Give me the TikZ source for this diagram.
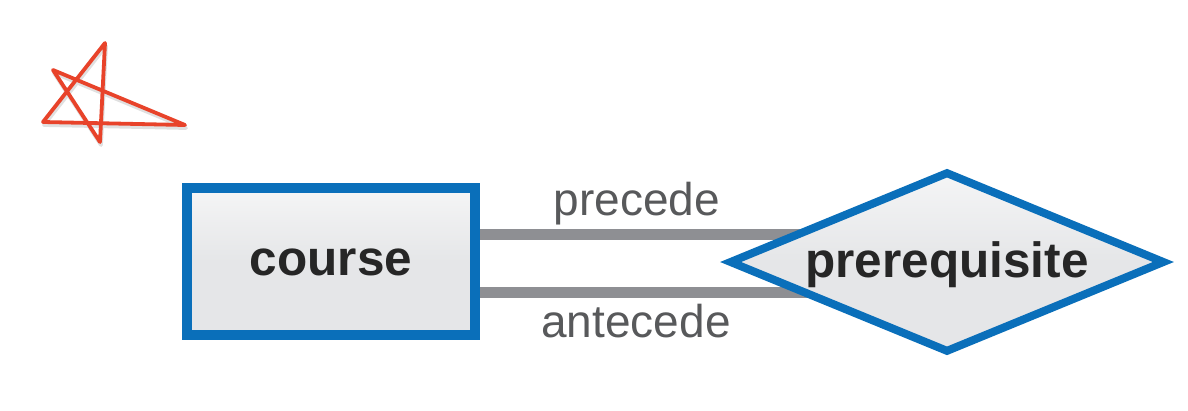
\documentclass[tikz,border=0pt]{standalone}
\usepackage{fontspec}
\setmainfont{Liberation Sans}
\usetikzlibrary{shapes.geometric,backgrounds}
\definecolor{erblue}{HTML}{0A6FBA}
\definecolor{boxgray}{HTML}{E5E6E8}
\definecolor{linegray}{HTML}{8E8F93}
\definecolor{labelgray}{HTML}{58595B}
\definecolor{starred}{HTML}{E8432A}
\tikzset{
  entitybox/.style={rectangle, draw=erblue, line width=10pt, inner sep=0pt,
    top color=boxgray!40, bottom color=boxgray, middle color=boxgray,
    minimum width=288pt, minimum height=147pt,
    font=\fontsize{49.5}{50}\selectfont\bfseries, text=black!85,
    text height=27pt, text depth=0pt},
  relbox/.style={diamond, draw=erblue, line width=8pt, inner sep=0pt,
    top color=boxgray!40, bottom color=boxgray, middle color=boxgray,
    minimum width=436pt, minimum height=181pt, aspect=2.41,
    font=\fontsize{49.5}{50}\selectfont\bfseries, text=black!85,
    text height=30pt, text depth=0pt},
  roleline/.style={draw=linegray, line width=11pt},
  rolelabel/.style={anchor=base, inner sep=0pt, text=labelgray,
    font=\fontsize{46}{48}\selectfont},
  starline/.style={draw=starred, line width=3.8pt, line cap=round, line join=round}
}
\begin{document}
\begin{tikzpicture}[x=1pt,y=-1pt]
\useasboundingbox (0,0) rectangle (1188,410);
% star
\coordinate (sT) at (105,43);
\coordinate (sB) at (100,142);
\coordinate (sUL) at (53,70);
\coordinate (sR) at (185,125);
\coordinate (sLB) at (43,122);
\draw[starline, draw=black!12] ([shift={(1,3)}]sT) -- ([shift={(1,3)}]sB) -- ([shift={(1,3)}]sUL) -- ([shift={(1,3)}]sR) -- ([shift={(1,3)}]sLB) -- cycle;
\draw[starline] (sT) -- (sB) -- (sUL) -- (sR) -- (sLB) -- cycle;
% nodes
\node[entitybox] (course) at (331,261.5) {course};
\node[relbox] (prereq) at (947,262) {prerequisite};
% connectors behind
\begin{scope}[on background layer]
\draw[roleline] (course.east |- 0,234.5) -- (prereq.center |- 0,234.5);
\draw[roleline] (course.east |- 0,292) -- (prereq.center |- 0,292);
\end{scope}
% labels
\node[rolelabel] (precede) at (637,215) {precede};
\node[rolelabel] (antecede) at (636,337) {antecede};
\end{tikzpicture}
\end{document}
